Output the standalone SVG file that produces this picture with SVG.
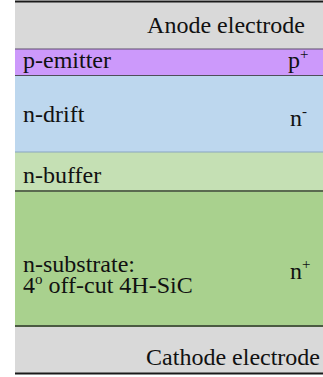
<svg xmlns="http://www.w3.org/2000/svg" width="323" height="377" viewBox="0 0 323 377">
  <style>
    .t { font-family: "Liberation Serif", "DejaVu Serif", "Times New Roman", serif; font-size: 24px; fill: #111; }
    .sup { font-size: 15px; }
    .end { text-anchor: end; }
  </style>
  <rect width="323" height="377" fill="#ffffff"/>

  <!-- layer stack, top to bottom -->
  <g id="anode">
    <rect x="15" y="1" width="308" height="48" fill="#d9d9d9"/>
    <text x="305" y="33" class="t end" font-family="Liberation Serif, serif">Anode electrode</text>
  </g>
  <g id="p-emitter">
    <rect x="15" y="49" width="308" height="26.5" fill="#cc99fb"/>
    <text x="23" y="68" class="t" font-family="Liberation Serif, serif">p-emitter</text>
    <text x="288" y="68" class="t" font-family="Liberation Serif, serif">p<tspan class="sup" dy="-9">+</tspan></text>
  </g>
  <g id="n-drift">
    <rect x="15" y="75.5" width="308" height="76.5" fill="#bdd7ee"/>
    <text x="23" y="122" class="t" font-family="Liberation Serif, serif">n-drift</text>
    <text x="290" y="126" class="t" font-family="Liberation Serif, serif">n<tspan class="sup" dy="-10">-</tspan></text>
  </g>
  <g id="n-buffer">
    <rect x="15" y="152" width="308" height="39" fill="#c5e0b4"/>
    <text x="23" y="183" class="t" font-family="Liberation Serif, serif">n-buffer</text>
  </g>
  <g id="n-substrate">
    <rect x="15" y="191" width="308" height="135" fill="#a9d18e"/>
    <text x="23" y="272" class="t" font-family="Liberation Serif, serif">n-substrate:<tspan x="23" y="293">4</tspan><tspan class="sup" dy="-9">o</tspan><tspan dy="9"> off-cut 4H-SiC</tspan></text>
    <text x="290" y="279" class="t" font-family="Liberation Serif, serif">n<tspan class="sup" dy="-10">+</tspan></text>
  </g>
  <g id="cathode">
    <rect x="15" y="326" width="308" height="47" fill="#d9d9d9"/>
    <text x="320" y="365" class="t end" font-family="Liberation Serif, serif">Cathode electrode</text>
  </g>

  <!-- interface lines between layers -->
  <g id="interfaces" fill="none">
    <line x1="15" y1="1.5" x2="323" y2="1.5" stroke="#1a1a1a" stroke-width="2"/>
    <line x1="15" y1="49" x2="323" y2="49" stroke="#5e4f6e" stroke-width="1.2"/>
    <line x1="15" y1="75.5" x2="323" y2="75.5" stroke="#4f4f5a" stroke-width="1.2"/>
    <line x1="15" y1="152" x2="323" y2="152" stroke="#8aa6bf" stroke-width="1.2"/>
    <line x1="15" y1="191" x2="323" y2="191" stroke="#5a6a50" stroke-width="2"/>
    <line x1="15" y1="326" x2="323" y2="326" stroke="#4b5a42" stroke-width="2"/>
    <line x1="15" y1="373.5" x2="323" y2="373.5" stroke="#1a1a1a" stroke-width="2"/>
  </g>
</svg>
